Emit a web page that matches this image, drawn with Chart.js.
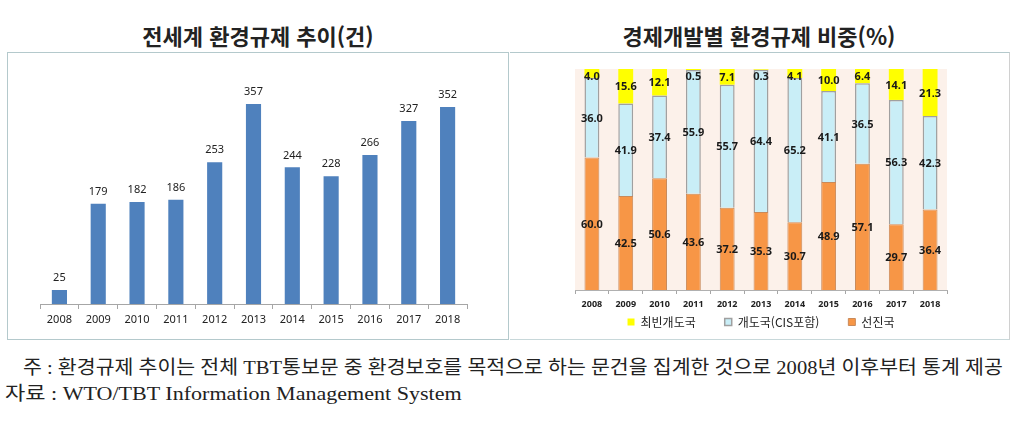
<!DOCTYPE html>
<html lang="ko">
<head>
<meta charset="utf-8">
<script src="https://cdn.jsdelivr.net/npm/chart.js@4"></script>
<style>
  html, body { margin: 0; padding: 0; background: #fff; }
  body { width: 1024px; height: 427px; position: relative; overflow: hidden; }
  .title { position: absolute; top: 19px; font: bold 22px "Noto Sans CJK KR", sans-serif; color: #222; white-space: nowrap; transform: translateX(-50%); }
  .box { position: absolute; box-sizing: border-box; }
  #leftBox { left: 7px; top: 52px; width: 502px; height: 288px; border: 1.5px solid #b4c9cc; }
  #rightBox { left: 510px; top: 52px; width: 500px; height: 288px; border-top: 1.5px solid #b4c9cc; border-right: 1.5px solid #d0d0d0; border-bottom: 1.5px solid #c8d8da; }
  canvas { position: absolute; }
  .note { position: absolute; font: 19px "Liberation Serif", "Noto Sans CJK KR", serif; color: #222; white-space: nowrap; transform-origin: left center; }
</style>
</head>
<body>
<div class="title" style="left:258px">전세계 환경규제 추이(건)</div>
<div class="title" style="left:759px">경제개발별 환경규제 비중(%)</div>
<div class="box" id="leftBox"></div>
<div class="box" id="rightBox"></div>
<canvas id="trendChart" width="499" height="285" style="left:8px; top:53px"></canvas>
<canvas id="shareChart" width="496" height="285" style="left:512px; top:53px"></canvas>
<div class="note" id="note1" style="left:23px; top:352px">주 : 환경규제 추이는 전체 TBT통보문 중 환경보호를 목적으로 하는 문건을 집계한 것으로 2008년 이후부터 통계 제공</div>
<div class="note" id="note2" style="left:5px; top:378px">자료 : WTO/TBT Information Management System</div>
<script>
// chart data
const years = ['2008', '2009', '2010', '2011', '2012', '2013', '2014', '2015', '2016', '2017', '2018'];
const regCounts = [25, 179, 182, 186, 253, 357, 244, 228, 266, 327, 352];
const developed = [60.0, 42.5, 50.6, 43.6, 37.2, 35.3, 30.7, 48.9, 57.1, 29.7, 36.4];
const developing = [36.0, 41.9, 37.4, 55.9, 55.7, 64.4, 65.2, 41.1, 36.5, 56.3, 42.3];
const leastDeveloped = [4.0, 15.6, 12.1, 0.5, 7.1, 0.3, 4.1, 10.0, 6.4, 14.1, 21.3];

// labels above bars (left chart)
const topLabels = {
    id: 'topLabels',
    afterDatasetsDraw(chart) {
        const ctx = chart.ctx;
        const meta = chart.getDatasetMeta(0);
        ctx.save();
        ctx.font = '11px "Noto Sans", sans-serif';
        ctx.fillStyle = '#222';
        ctx.textAlign = 'center';
        ctx.textBaseline = 'middle';
        meta.data.forEach((bar, i) => {
            ctx.fillText(chart.data.datasets[0].data[i], bar.x, bar.y - 12);
        });
        ctx.restore();
    }
};

// labels inside stacked segments (right chart)
const segmentLabels = {
    id: 'segmentLabels',
    afterDatasetsDraw(chart) {
        const ctx = chart.ctx;
        const top = chart.chartArea.top;
        ctx.save();
        ctx.font = 'bold 11px "Noto Sans", sans-serif';
        ctx.fillStyle = '#1a1a1a';
        ctx.textAlign = 'center';
        ctx.textBaseline = 'middle';
        chart.data.datasets.forEach((ds, di) => {
            chart.getDatasetMeta(di).data.forEach((bar, i) => {
                let y = (bar.y + bar.base) / 2 + 1;
                if (y < top + 8) y = top + 8;
                ctx.fillText(ds.data[i].toFixed(1), bar.x, y);
            });
        });
        ctx.restore();
    }
};

const plotBackground = {
    id: 'plotBackground',
    beforeDraw(chart) {
        const { ctx, chartArea: a } = chart;
        ctx.save();
        ctx.fillStyle = '#fcf1ea';
        ctx.fillRect(a.left, a.top, a.right - a.left, a.bottom - a.top);
        ctx.restore();
    }
};

new Chart(document.getElementById('trendChart'), {
    type: 'bar',
    data: {
        labels: years,
        datasets: [{
            data: regCounts,
            backgroundColor: '#4f81bd',
            barPercentage: 1,
            categoryPercentage: 0.39
        }]
    },
    options: {
        responsive: false,
        animation: false,
        layout: { padding: { left: 32, right: 40, top: 27, bottom: 0 } },
        plugins: { legend: { display: false }, tooltip: { enabled: false } },
        scales: {
            x: {
                grid: { offset: true, drawOnChartArea: false, drawTicks: true, tickLength: 5, color: '#a6a6a6' },
                border: { color: '#a6a6a6' },
                ticks: { color: '#222', font: { family: '"Noto Sans", sans-serif', size: 11 }, padding: 4 },
                afterFit(scale) { scale.height = 34; }
            },
            y: { display: false, min: 0, max: 400 }
        }
    },
    plugins: [topLabels]
});

new Chart(document.getElementById('shareChart'), {
    type: 'bar',
    data: {
        labels: years,
        datasets: [
            {
                label: '선진국',
                data: developed,
                backgroundColor: '#f79646',
                borderColor: '#c98a5a',
                borderWidth: 1
            },
            {
                label: '개도국(CIS포함)',
                data: developing,
                backgroundColor: '#c9eef7',
                borderColor: '#a0a0a0',
                borderWidth: 1.5
            },
            {
                label: '최빈개도국',
                data: leastDeveloped,
                backgroundColor: '#ffff00',
                borderColor: '#ffff00',
                borderWidth: 0
            }
        ]
    },
    options: {
        responsive: false,
        animation: false,
        datasets: { bar: { barPercentage: 1, categoryPercentage: 0.44 } },
        layout: { padding: { left: 63, right: 61, top: 16, bottom: 0 } },
        plugins: {
            tooltip: { enabled: false },
            legend: {
                position: 'bottom',
                reverse: true,
                labels: {
                    boxWidth: 7,
                    boxHeight: 7,
                    padding: 5,
                    color: '#222',
                    font: { family: '"Noto Sans CJK KR", sans-serif', size: 12 },
                    generateLabels(chart) {
                        const items = Chart.defaults.plugins.legend.labels.generateLabels(chart);
                        // extra room between legend entries
                        items.forEach(it => { if (it.datasetIndex !== 0) it.text += '\u2003\u2003'; });
                        return items;
                    }
                }
            }
        },
        scales: {
            x: {
                stacked: true,
                grid: { offset: true, drawOnChartArea: false, drawTicks: true, tickLength: 4, color: '#a6a6a6' },
                border: { color: '#b0b0b0' },
                ticks: { color: '#222', font: { family: '"Noto Sans", sans-serif', size: 9, weight: 'bold' }, padding: 5 },
                afterFit(scale) { scale.height = 21; }
            },
            y: { display: false, stacked: true, min: 0, max: 100 }
        }
    },
    plugins: [plotBackground, segmentLabels]
});

// squeeze the notes to the width they take in the reference
[['note1', 980], ['note2', 457]].forEach(([id, w]) => {
    const el = document.getElementById(id);
    el.style.transform = 'scaleX(' + (w / el.offsetWidth) + ')';
});
</script>
</body>
</html>
